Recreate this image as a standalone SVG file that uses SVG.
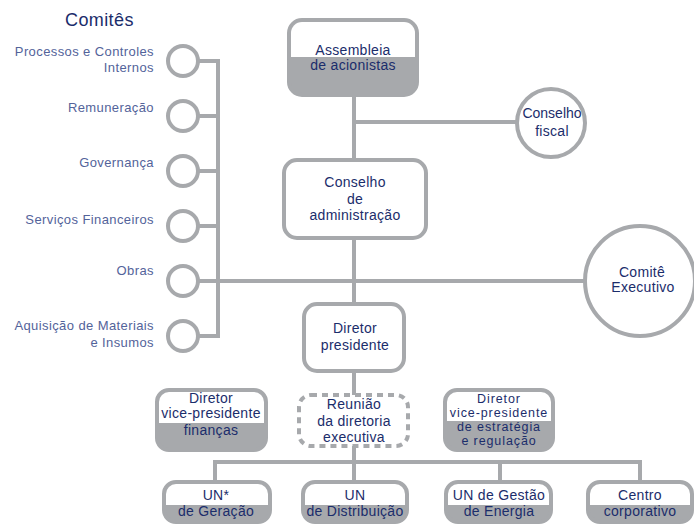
<svg xmlns="http://www.w3.org/2000/svg" width="694" height="526" viewBox="0 0 694 526">
<style>
.ln{stroke:#a7a9ac;stroke-width:4;fill:none}
.bx{stroke:#a7a9ac;stroke-width:4;fill:#fff}
.bg{stroke:#a7a9ac;stroke-width:4;fill:#a7a9ac}
.wh{fill:#fff}
.ds{stroke:#a7a9ac;stroke-width:4;fill:#fff;stroke-dasharray:6 5}
.ci{stroke:#a7a9ac;stroke-width:4;fill:#fff}
text{font-family:"Liberation Sans",Arial,sans-serif}
.t{font-size:14px;fill:#1b2d6b;text-anchor:middle;letter-spacing:0.3px}
.s{font-size:12.5px;fill:#1b2d6b;text-anchor:middle;letter-spacing:0.9px}
.c{font-size:13px;fill:#53639a;text-anchor:end;letter-spacing:0.4px}
.h{font-size:18px;fill:#1b2d6b;letter-spacing:0.4px}
</style>
<g id="connectors">
<line class="ln" x1="354" y1="97" x2="354" y2="158"/>
<line class="ln" x1="354" y1="122" x2="517" y2="122"/>
<line class="ln" x1="354" y1="240" x2="354" y2="302"/>
<line class="ln" x1="218" y1="281" x2="585" y2="281"/>
<line class="ln" x1="218" y1="59" x2="218" y2="338"/>
<line class="ln" x1="198" y1="61" x2="218" y2="61"/>
<line class="ln" x1="198" y1="116" x2="218" y2="116"/>
<line class="ln" x1="198" y1="171" x2="218" y2="171"/>
<line class="ln" x1="198" y1="226" x2="218" y2="226"/>
<line class="ln" x1="198" y1="281" x2="218" y2="281"/>
<line class="ln" x1="198" y1="336" x2="218" y2="336"/>
<line class="ln" x1="354" y1="372" x2="354" y2="395"/>
<line class="ln" x1="354" y1="446" x2="354" y2="482"/>
<line class="ln" x1="213" y1="462" x2="642" y2="462"/>
<line class="ln" x1="215" y1="462" x2="215" y2="482"/>
<line class="ln" x1="500" y1="462" x2="500" y2="482"/>
<line class="ln" x1="640" y1="462" x2="640" y2="482"/>
</g>
<g id="comites-title"><text class="h" x="65" y="26">Comitês</text></g>
<g id="c-processos"><circle class="ci" cx="183" cy="61" r="15"/><text class="c" x="154" y="56">Processos e Controles</text><text class="c" x="154" y="72">Internos</text></g>
<g id="c-remuneracao"><circle class="ci" cx="183" cy="116" r="15"/><text class="c" x="154" y="112">Remuneração</text></g>
<g id="c-governanca"><circle class="ci" cx="183" cy="171" r="15"/><text class="c" x="154" y="167">Governança</text></g>
<g id="c-servicos"><circle class="ci" cx="183" cy="226" r="15"/><text class="c" x="154" y="224">Serviços Financeiros</text></g>
<g id="c-obras"><circle class="ci" cx="183" cy="281" r="15"/><text class="c" x="154" y="275">Obras</text></g>
<g id="c-aquisicao"><circle class="ci" cx="183" cy="336" r="15"/><text class="c" x="154" y="330">Aquisição de Materiais</text><text class="c" x="154" y="347">e Insumos</text></g>
<g id="assembleia">
<rect class="bg" x="289" y="20" width="128" height="75" rx="13"/>
<path class="wh" d="M291,57 V33 a11,11 0 0 1 11,-11 H404 a11,11 0 0 1 11,11 V57 Z"/>
<text class="t" x="353" y="55">Assembleia</text><text class="t" x="353" y="70">de acionistas</text>
</g>
<g id="conselho-fiscal"><circle class="ci" cx="551" cy="123" r="34"/><text class="t" x="552" y="118" style="letter-spacing:0px">Conselho</text><text class="t" x="552" y="136">fiscal</text></g>
<g id="conselho-admin"><rect class="bx" x="284" y="160" width="142" height="78" rx="13"/>
<text class="t" x="355" y="187">Conselho</text><text class="t" x="355" y="204">de</text><text class="t" x="355" y="220">administração</text></g>
<g id="comite-executivo"><circle class="ci" cx="640" cy="281" r="55"/><text class="t" x="642" y="277">Comitê</text><text class="t" x="643" y="292">Executivo</text></g>
<g id="diretor-presidente"><rect class="bx" x="304" y="304" width="100" height="67" rx="13"/>
<text class="t" x="355" y="333">Diretor</text><text class="t" x="355" y="350">presidente</text></g>
<g id="vp-financas">
<rect class="bg" x="157" y="390" width="109" height="60" rx="12"/>
<path class="wh" d="M159,423 V402 a10,10 0 0 1 10,-10 H254 a10,10 0 0 1 10,10 V423 Z"/>
<text class="t" x="211" y="403">Diretor</text><text class="t" x="211" y="418">vice-presidente</text><text class="t" x="211" y="435">finanças</text>
</g>
<g id="reuniao"><rect class="ds" x="299" y="395" width="109" height="51" rx="12"/>
<text class="t" x="354" y="409">Reunião</text><text class="t" x="354" y="426">da diretoria</text><text class="t" x="354" y="442">executiva</text></g>
<g id="vp-estrategia">
<rect class="bg" x="445" y="390" width="108" height="60" rx="12"/>
<path class="wh" d="M447,421 V402 a10,10 0 0 1 10,-10 H541 a10,10 0 0 1 10,10 V421 Z"/>
<text class="s" x="499" y="403">Diretor</text><text class="s" x="499" y="417">vice-presidente</text><text class="s" x="499" y="431">de estratégia</text><text class="s" x="499" y="445">e regulação</text>
</g>
<g id="un-geracao">
<rect class="bg" x="164" y="482" width="106" height="40" rx="12"/>
<path class="wh" d="M166,505 V494 a10,10 0 0 1 10,-10 H258 a10,10 0 0 1 10,10 V505 Z"/>
<text class="t" x="216" y="500">UN*</text><text class="t" x="216" y="516">de Geração</text>
</g>
<g id="un-distribuicao">
<rect class="bg" x="303" y="482" width="104" height="40" rx="12"/>
<path class="wh" d="M305,505 V494 a10,10 0 0 1 10,-10 H395 a10,10 0 0 1 10,10 V505 Z"/>
<text class="t" x="355" y="500">UN</text><text class="t" x="355" y="516">de Distribuição</text>
</g>
<g id="un-gestao">
<rect class="bg" x="446" y="482" width="105" height="40" rx="12"/>
<path class="wh" d="M448,505 V494 a10,10 0 0 1 10,-10 H539 a10,10 0 0 1 10,10 V505 Z"/>
<text class="t" x="499" y="500">UN de Gestão</text><text class="t" x="499" y="516">de Energia</text>
</g>
<g id="centro-corporativo">
<rect class="bg" x="588" y="482" width="104" height="40" rx="12"/>
<path class="wh" d="M590,505 V494 a10,10 0 0 1 10,-10 H680 a10,10 0 0 1 10,10 V505 Z"/>
<text class="t" x="640" y="500">Centro</text><text class="t" x="640" y="516">corporativo</text>
</g>
</svg>
